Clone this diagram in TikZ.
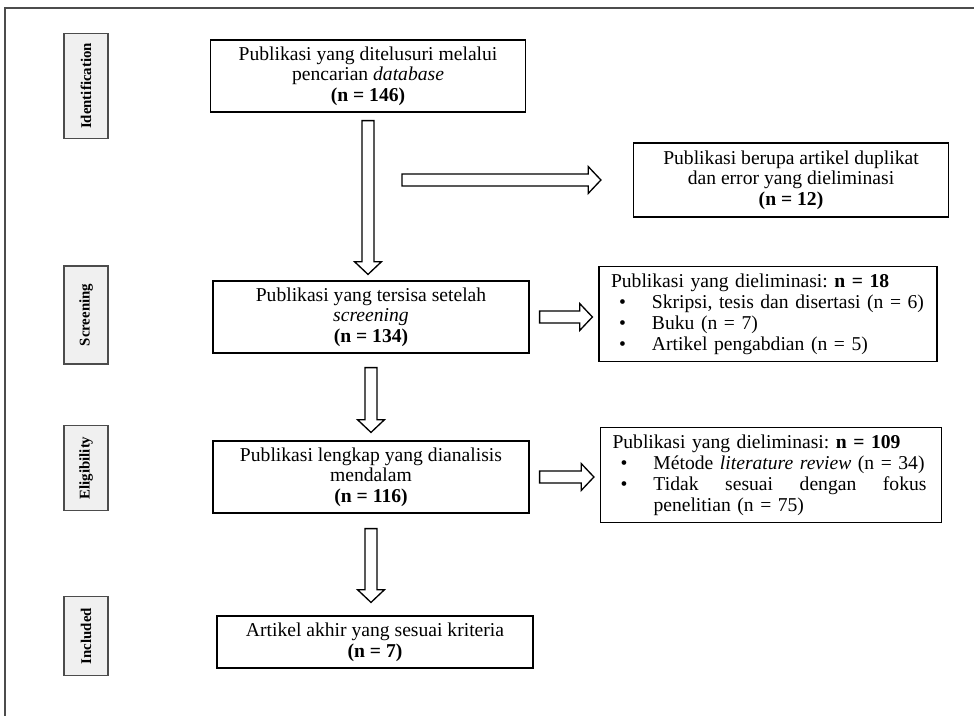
\documentclass[tikz,border=0pt]{standalone}
\usepackage{fontspec}
\setmainfont{Liberation Serif}
\usetikzlibrary{calc}
\frenchspacing

\newdimen\upx \upx=0.673pt
\newcommand{\butir}[1]{\par\noindent\makebox[41\upx][l]{\hspace*{8\upx}\textbullet}%
  \parbox[t]{\dimexpr\hsize-41\upx\relax}{#1}}

\begin{document}
\begin{tikzpicture}[x=\upx,y=-\upx,
  box/.style={draw,line width=0.8pt,align=center,inner sep=1pt,font=\fontsize{13.2}{13.9}\selectfont},
  listbox/.style={draw,line width=0.8pt,align=left,inner xsep=12\upx,inner ysep=2pt,font=\fontsize{13.2}{14.1}\selectfont},
  phase/.style={draw=gray!60!black,fill=gray!12,line width=0.8pt,rotate=90,minimum height=44\upx,inner sep=0pt,font=\fontsize{10}{12}\selectfont\bfseries},
  fatarrow/.style={line width=0.9pt,fill=white,
    to path={($(\tikztostart)!4pt!90:(\tikztotarget)$)
      -- ($($(\tikztotarget)!8.5pt!(\tikztostart)$)!4pt!90:(\tikztotarget)$)
      -- ($($(\tikztotarget)!8.5pt!(\tikztostart)$)!9pt!90:(\tikztotarget)$)
      -- (\tikztotarget)
      -- ($($(\tikztotarget)!8.5pt!(\tikztostart)$)!9pt!-90:(\tikztotarget)$)
      -- ($($(\tikztotarget)!8.5pt!(\tikztostart)$)!4pt!-90:(\tikztotarget)$)
      -- ($(\tikztostart)!4pt!-90:(\tikztotarget)$) -- cycle}}]
  \useasboundingbox (0,0) rectangle (974,716);
  \draw[line width=1.4pt,black!70] (5,716) -- (5,8) -- (974,8); % frame

  % phases
  \node[phase,minimum width=105\upx] (iden) at (86,86) {Identification};
  \node[phase,minimum width=98\upx] (scrn) at (86,315) {Screening};
  \node[phase,minimum width=85\upx] (elig) at (86,468) {Eligibility};
  \node[phase,minimum width=79\upx] (incl) at (86,636) {Included};

  % main column
  \node[box,minimum width=315\upx,minimum height=72\upx] (cari) at (368,76)
    {Publikasi yang ditelusuri melalui\\ pencarian \textit{database}\\ \textbf{(n = 146)}};
  \node[box,minimum width=316\upx,minimum height=72\upx] (sisa) at (371,317)
    {Publikasi yang tersisa setelah\\ \textit{screening}\\ \textbf{(n = 134)}};
  \node[box,minimum width=316\upx,minimum height=72\upx] (analisis) at (371,477)
    {Publikasi lengkap yang dianalisis\\ mendalam\\ \textbf{(n = 116)}};
  \node[box,minimum width=316\upx,minimum height=52\upx] (akhir) at (375,642)
    {Artikel akhir yang sesuai kriteria\\ \textbf{(n = 7)}};

  % excluded
  \node[box,minimum width=315\upx,minimum height=74\upx] (duplikat) at (791,180)
    {Publikasi berupa artikel duplikat\\ dan error yang dieliminasi\\ \textbf{(n = 12)}};
  \node[listbox,text width=314\upx,minimum height=95\upx] (elim1) at (768,314)
    {Publikasi yang dieliminasi: \textbf{n = 18}
     \butir{Skripsi, tesis dan disertasi (n = 6)}
     \butir{Buku (n = 7)}
     \butir{Artikel pengabdian (n = 5)}};
  \node[listbox,text width=317\upx,minimum height=95\upx] (elim2) at (771,475)
    {Publikasi yang dieliminasi: \textbf{n = 109}
     \butir{Métode \textit{literature review} (n = 34)}
     \butir{\hbox to 273\upx{Tidak\hfill sesuai\hfill dengan\hfill fokus}penelitian (n = 75)}};

  % arrows
  \coordinate (cabang) at (402,180);
  \draw[fatarrow] ($(cari.south)+(0,8)$) to ($(cari.south |- sisa.north)+(0,-6)$); % cari -- sisa
  \draw[fatarrow] (cabang) to ($(duplikat.west)+(-32,0)$); % -- duplikat
  \draw[fatarrow] ($(sisa.east)+(10,0)$) to ($(sisa.east -| elim1.west)+(-6,0)$); % sisa -- elim1
  \draw[fatarrow] ($(sisa.south)+(0,14)$) to ($(sisa.south |- analisis.north)+(0,-8)$); % sisa -- analisis
  \draw[fatarrow] ($(analisis.east)+(10,0)$) to ($(analisis.east -| elim2.west)+(-6,0)$); % analisis -- elim2
  \draw[fatarrow] ($(analisis.south)+(0,15)$) to ($(analisis.south |- akhir.north)+(0,-13)$); % analisis -- akhir
\end{tikzpicture}
\end{document}
